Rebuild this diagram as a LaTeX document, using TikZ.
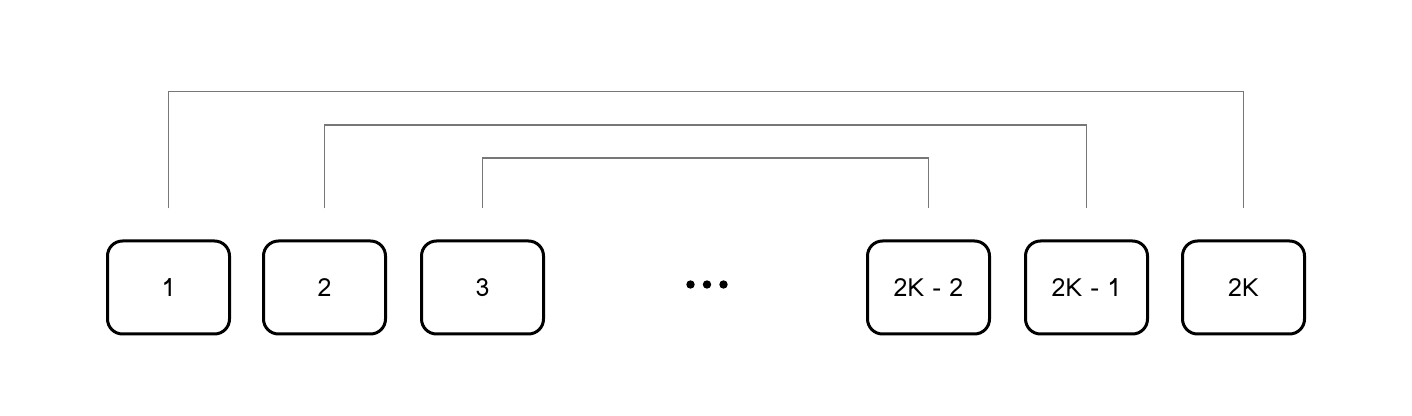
\documentclass[tikz,border=0pt]{standalone}
\usepackage{fontspec}
\setmainfont{Loma}
\usepackage{tikz}

\begin{document}
\begin{tikzpicture}[x=0.5pt,y=0.5pt,yscale=-1,xscale=1,
	slot/.style={draw=black,line width=1.5pt,rounded corners=7.5pt,minimum width=61pt,minimum height=46.5pt,inner sep=0pt,font=\fontsize{12.5}{15}\selectfont},
	link/.style={draw={rgb, 255:red, 119; green, 119; blue, 119},line width=0.75pt},
	dot/.style={circle,fill=black,inner sep=0pt,minimum size=4.2pt}]
				\useasboundingbox (0,0) rectangle (1412,416);

				% Text Node
				\node [slot] (s1) at (168.5,287.5) {1};
				% Text Node
				\node [slot] (s2) at (324.5,287.5) {2};
				% Text Node
				\node [slot] (s3) at (482.5,287.5) {3};
				% Text Node
				\node [slot] (s4) at (928.5,287.5) {2K - 2};
				% Text Node
				\node [slot] (s5) at (1086.5,287.5) {2K - 1};
				% Text Node
				\node [slot] (s6) at (1243.5,287.5) {2K};

				%Dots
				\node [dot] (d1) at (690.5,284.5) {};
				\node [dot] (d2) at (707,284.5) {};
				\node [dot] (d3) at (723.5,284.5) {};

				%Straight Lines 
				\draw [link] ([yshift=-15.5pt]s1.north) -- ++(0,-117) -| ([yshift=-15.5pt]s6.north);
				%Straight Lines 
				\draw [link] ([yshift=-15.5pt]s2.north) -- ++(0,-83.5) -| ([yshift=-15.5pt]s5.north);
				%Straight Lines 
				\draw [link] ([yshift=-15.5pt]s3.north) -- ++(0,-50.5) -| ([yshift=-15.5pt]s4.north);

\end{tikzpicture}
\end{document}
